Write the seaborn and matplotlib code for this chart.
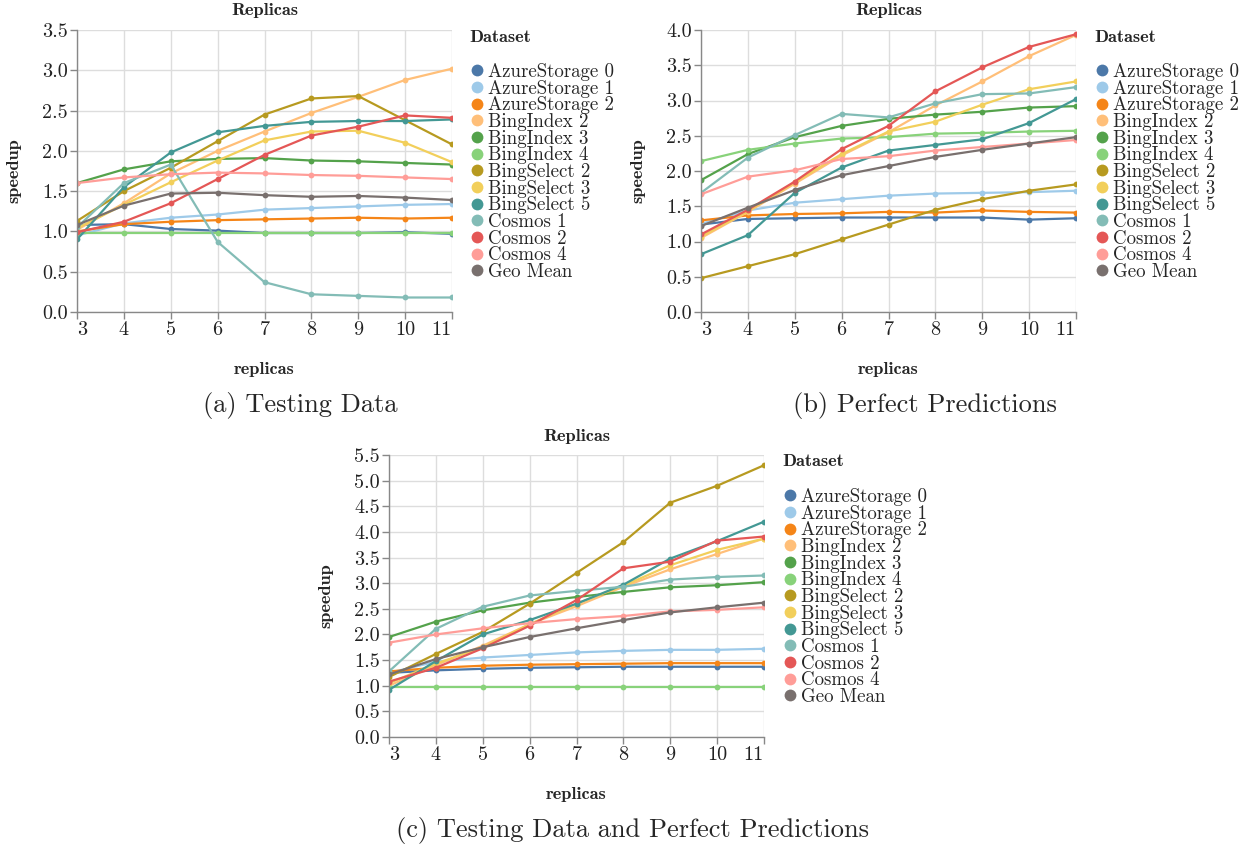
import matplotlib
matplotlib.use("Agg")
import matplotlib.pyplot as plt
from matplotlib.lines import Line2D
import pandas as pd
import seaborn as sns

sns.set_theme(style="white")
plt.rcParams["font.family"] = ["cmr10", "DejaVu Serif"]
plt.rcParams["axes.formatter.use_mathtext"] = True

replicas = [3, 4, 5, 6, 7, 8, 9, 10, 11]

datasets = ["AzureStorage 0", "AzureStorage 1", "AzureStorage 2", "BingIndex 2",
            "BingIndex 3", "BingIndex 4", "BingSelect 2", "BingSelect 3",
            "BingSelect 5", "Cosmos 1", "Cosmos 2", "Cosmos 4", "Geo Mean"]

colors = ["#4c78a8", "#9ecae9", "#f58518", "#ffbf79", "#54a24b", "#88d27a",
          "#b79a20", "#f2cf5b", "#439894", "#83bcb6", "#e45756", "#ff9d98",
          "#79706e"]

# (a) speedup measured on testing data
testing = {
    "AzureStorage 0": [1.08, 1.09, 1.03, 1.01, 0.98, 0.98, 0.98, 0.99, 0.97],
    "AzureStorage 1": [0.95, 1.10, 1.17, 1.21, 1.27, 1.29, 1.31, 1.33, 1.34],
    "AzureStorage 2": [1.00, 1.09, 1.12, 1.14, 1.15, 1.16, 1.17, 1.16, 1.17],
    "BingIndex 2":    [1.02, 1.35, 1.72, 2.00, 2.24, 2.47, 2.67, 2.88, 3.02],
    "BingIndex 3":    [1.60, 1.77, 1.87, 1.90, 1.91, 1.88, 1.87, 1.85, 1.83],
    "BingIndex 4":    [0.98, 0.98, 0.98, 0.98, 0.98, 0.98, 0.98, 0.98, 0.98],
    "BingSelect 2":   [1.13, 1.50, 1.79, 2.12, 2.45, 2.65, 2.68, 2.38, 2.08],
    "BingSelect 3":   [1.04, 1.33, 1.61, 1.88, 2.13, 2.24, 2.25, 2.10, 1.86],
    "BingSelect 5":   [0.90, 1.55, 1.98, 2.23, 2.31, 2.36, 2.37, 2.37, 2.39],
    "Cosmos 1":       [1.05, 1.60, 1.83, 0.87, 0.37, 0.22, 0.20, 0.18, 0.18],
    "Cosmos 2":       [0.99, 1.12, 1.35, 1.65, 1.95, 2.19, 2.30, 2.44, 2.41],
    "Cosmos 4":       [1.60, 1.67, 1.71, 1.73, 1.72, 1.70, 1.69, 1.67, 1.65],
    "Geo Mean":       [1.08, 1.32, 1.47, 1.48, 1.45, 1.43, 1.44, 1.42, 1.39],
}

# (b) speedup with perfect predictions
perfect = {
    "AzureStorage 0": [1.24, 1.32, 1.33, 1.34, 1.34, 1.34, 1.34, 1.31, 1.33],
    "AzureStorage 1": [1.25, 1.44, 1.55, 1.60, 1.65, 1.68, 1.69, 1.70, 1.72],
    "AzureStorage 2": [1.30, 1.37, 1.39, 1.40, 1.42, 1.41, 1.44, 1.42, 1.41],
    "BingIndex 2":    [1.05, 1.42, 1.82, 2.22, 2.55, 2.93, 3.27, 3.63, 3.93],
    "BingIndex 3":    [1.87, 2.24, 2.48, 2.64, 2.74, 2.80, 2.84, 2.90, 2.92],
    "BingIndex 4":    [2.14, 2.30, 2.39, 2.46, 2.48, 2.53, 2.54, 2.56, 2.57],
    "BingSelect 2":   [0.48, 0.65, 0.82, 1.03, 1.24, 1.45, 1.60, 1.72, 1.81],
    "BingSelect 3":   [1.07, 1.43, 1.84, 2.24, 2.56, 2.70, 2.94, 3.16, 3.27],
    "BingSelect 5":   [0.82, 1.09, 1.69, 2.05, 2.29, 2.37, 2.45, 2.68, 3.02],
    "Cosmos 1":       [1.69, 2.19, 2.51, 2.81, 2.76, 2.96, 3.09, 3.10, 3.19],
    "Cosmos 2":       [1.10, 1.45, 1.85, 2.31, 2.64, 3.13, 3.47, 3.76, 3.94],
    "Cosmos 4":       [1.67, 1.92, 2.01, 2.17, 2.21, 2.29, 2.34, 2.39, 2.44],
    "Geo Mean":       [1.22, 1.48, 1.73, 1.94, 2.07, 2.20, 2.30, 2.39, 2.48],
}

# (c) speedup on testing data combined with perfect predictions
combined = {
    "AzureStorage 0": [1.25, 1.30, 1.33, 1.35, 1.36, 1.37, 1.37, 1.37, 1.37],
    "AzureStorage 1": [1.25, 1.47, 1.55, 1.60, 1.65, 1.68, 1.70, 1.70, 1.72],
    "AzureStorage 2": [1.28, 1.35, 1.39, 1.41, 1.42, 1.43, 1.44, 1.44, 1.44],
    "BingIndex 2":    [1.00, 1.40, 1.78, 2.20, 2.55, 2.93, 3.27, 3.57, 3.87],
    "BingIndex 3":    [1.95, 2.25, 2.47, 2.62, 2.73, 2.83, 2.92, 2.96, 3.02],
    "BingIndex 4":    [0.98, 0.98, 0.98, 0.98, 0.98, 0.98, 0.98, 0.98, 0.98],
    "BingSelect 2":   [1.17, 1.62, 2.05, 2.60, 3.20, 3.80, 4.57, 4.90, 5.30],
    "BingSelect 3":   [1.05, 1.43, 1.75, 2.20, 2.60, 2.95, 3.35, 3.65, 3.87],
    "BingSelect 5":   [0.92, 1.48, 2.00, 2.28, 2.60, 2.97, 3.48, 3.82, 4.20],
    "Cosmos 1":       [1.28, 2.11, 2.54, 2.76, 2.85, 2.93, 3.07, 3.12, 3.15],
    "Cosmos 2":       [1.08, 1.35, 1.73, 2.17, 2.67, 3.29, 3.42, 3.83, 3.91],
    "Cosmos 4":       [1.84, 2.00, 2.12, 2.22, 2.30, 2.36, 2.45, 2.48, 2.53],
    "Geo Mean":       [1.22, 1.52, 1.75, 1.95, 2.12, 2.28, 2.43, 2.53, 2.62],
}

W, H = 1254, 847
fig = plt.figure(figsize=(W / 100, H / 100), dpi=100)
palette = dict(zip(datasets, colors))
AXIS_GREY = "#888888"
GRID_GREY = "#dddddd"
BOLD = 13.2
TICK = 14.5
LEGEND = 13.6


def fx(px):
    return px / W


def fy(py):
    return 1 - py / H


def panel(values, box, ymax, title_y, legend_x, legend_top, caption, caption_xy):
    left, top, right, bottom = box
    ax = fig.add_axes([fx(left), fy(bottom), fx(right - left), (bottom - top) / H])
    frame = pd.DataFrame(
        [(name, r, v) for name in datasets for r, v in zip(replicas, values[name])],
        columns=["Dataset", "replicas", "speedup"],
    )
    sns.lineplot(data=frame, x="replicas", y="speedup", hue="Dataset",
                 hue_order=datasets, palette=palette, marker="o", markersize=4.2,
                 markeredgewidth=0, linewidth=1.6, legend=False, ax=ax)
    ax.set_xlim(replicas[0], replicas[-1])
    ax.set_ylim(0, ymax)
    ax.set_xticks(replicas)
    ax.set_xticklabels([str(r) for r in replicas])
    yt = [i * 0.5 for i in range(int(round(ymax / 0.5)) + 1)]
    ax.set_yticks(yt)
    ax.set_yticklabels([f"{v:.1f}" for v in yt])
    ax.grid(True, color=GRID_GREY, linewidth=1.0)
    ax.set_axisbelow(True)
    for s in ("top", "right"):
        ax.spines[s].set_visible(False)
    for s in ("left", "bottom"):
        ax.spines[s].set_color(AXIS_GREY)
        ax.spines[s].set_linewidth(1.0)
    ax.tick_params(axis="both", which="major", length=5, width=1.0,
                   color=AXIS_GREY, labelsize=TICK, labelcolor="#222222", pad=1.5,
                   bottom=True, left=True)
    xl = ax.get_xticklabels()
    xl[0].set_horizontalalignment("left")
    xl[-1].set_horizontalalignment("right")
    ax.set_xlabel("")
    ax.set_ylabel("")
    cx = (left + right) / 2
    fig.text(fx(cx), fy(title_y), "Replicas", family="cmb10", fontsize=BOLD,
             ha="center", va="center")
    fig.text(fx(cx), fy(bottom + 57), "replicas", family="cmb10", fontsize=BOLD,
             ha="center", va="center")
    fig.text(fx(left - 63), fy((top + bottom) / 2), "speedup", family="cmb10",
             fontsize=BOLD, rotation=90, ha="center", va="center")
    fig.text(fx(caption_xy[0]), fy(caption_xy[1]), caption, fontsize=19,
             ha="center", va="center")
    # legend
    fig.text(fx(legend_x - 8), fy(legend_top), "Dataset", family="cmb10",
             fontsize=BOLD, ha="left", va="center")
    handles = [Line2D([], [], linestyle="none", marker="o", markersize=8.5,
                      markerfacecolor=c, markeredgewidth=0) for c in colors]
    fig.legend(handles, datasets, loc="upper left",
               bbox_to_anchor=(fx(legend_x - 6), fy(legend_top + 26)),
               frameon=False, fontsize=LEGEND, handlelength=0.6,
               handletextpad=0.3, labelspacing=-0.07, borderpad=0,
               borderaxespad=0)
    return ax


ax_a = panel(testing, (77, 30, 452, 312), 3.5, 11, 477, 37,
             "(a) Testing Data", (300, 405))
ax_b = panel(perfect, (701, 30, 1076, 312), 4.0, 11, 1102, 37,
             "(b) Perfect Predictions", (925, 405))
ax_c = panel(combined, (389, 455, 764, 737), 5.5, 436, 790, 462,
             "(c) Testing Data and Perfect Predictions", (632, 830))

fig.savefig("out.png", dpi=100, facecolor="white")
